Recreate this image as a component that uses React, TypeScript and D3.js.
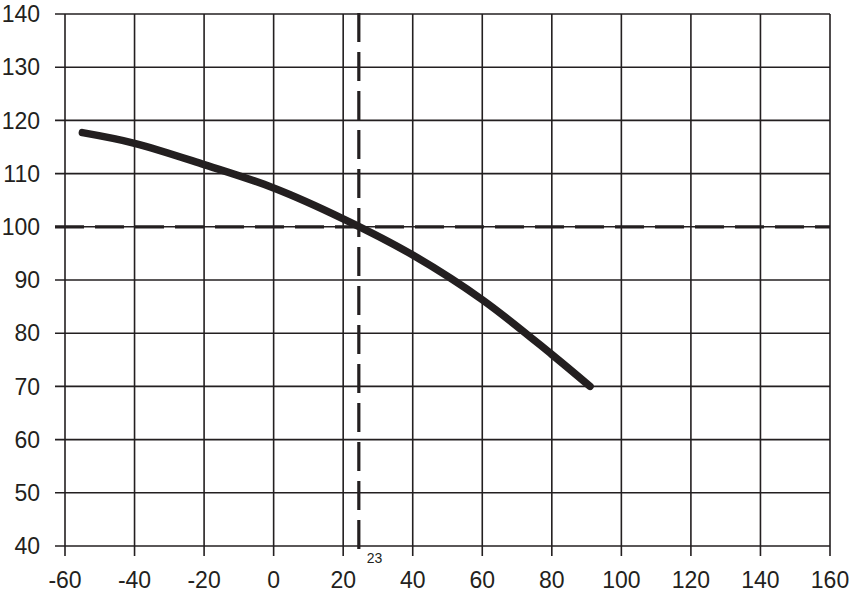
import React from "react";
import * as d3 from "d3";

const xTicks = [-60, -40, -20, 0, 20, 40, 60, 80, 100, 120, 140, 160];
const yTicks = [40, 50, 60, 70, 80, 90, 100, 110, 120, 130, 140];
const curveX = [-55, -40, -20, 0, 20, 40, 60, 80, 91];
const curveY = [117.7, 115.7, 111.7, 107.3, 101.5, 94.7, 86.3, 76.0, 70];
const refY = 100;
const refX = 24.5;
const refXLabel = "23";

export default function App() {
  const W = 852, H = 594;
  const x = d3.scaleLinear().domain([-60, 160]).range([65, 830]);
  const y = d3.scaleLinear().domain([40, 140]).range([546, 14]);
  const tickOut = 10;
  const color = "#231f20";
  const pts = curveX.map((v, i) => [v, curveY[i]] as [number, number]);
  const line = d3.line<[number, number]>().x(d => x(d[0])).y(d => y(d[1])).curve(d3.curveCatmullRom.alpha(0.5));
  const font = "'Liberation Sans', Arial, Helvetica, sans-serif";
  return (
    <svg width={W} height={H} style={{ position: "absolute", left: 0, top: 0, background: "#fff" }}>
      <rect width={W} height={H} fill="#fff" />
      {yTicks.map(t => (
        <line key={"h" + t} x1={x(-60) - tickOut} x2={x(160)} y1={y(t)} y2={y(t)} stroke={color} strokeWidth={1.6} />
      ))}
      {xTicks.map(t => (
        <line key={"v" + t} x1={x(t)} x2={x(t)} y1={y(140)} y2={y(40) + tickOut} stroke={color} strokeWidth={1.6} />
      ))}
      <line x1={x(-60) - tickOut} x2={x(160)} y1={y(refY)} y2={y(refY)} stroke={color} strokeWidth={3.2} strokeDasharray="29 11" />
      <line x1={x(refX)} x2={x(refX)} y1={y(140) - 1} y2={y(40) + tickOut} stroke={color} strokeWidth={3.2} strokeDasharray="29 10" />
      <path d={line(pts) || ""} fill="none" stroke={color} strokeWidth={7.5} strokeLinecap="round" strokeLinejoin="round" />
      {yTicks.map(t => (
        <text key={"yl" + t} x={40} y={y(t)} dy="0.36em" textAnchor="end" fontFamily={font} fontSize={23} fill={color}>{t}</text>
      ))}
      {xTicks.map(t => (
        <text key={"xl" + t} x={x(t)} y={588} textAnchor="middle" fontFamily={font} fontSize={23} fill={color}>{t}</text>
      ))}
      <text x={x(refX) + 8} y={563} fontFamily={font} fontSize={14} fill={color}>{refXLabel}</text>
    </svg>
  );
}
